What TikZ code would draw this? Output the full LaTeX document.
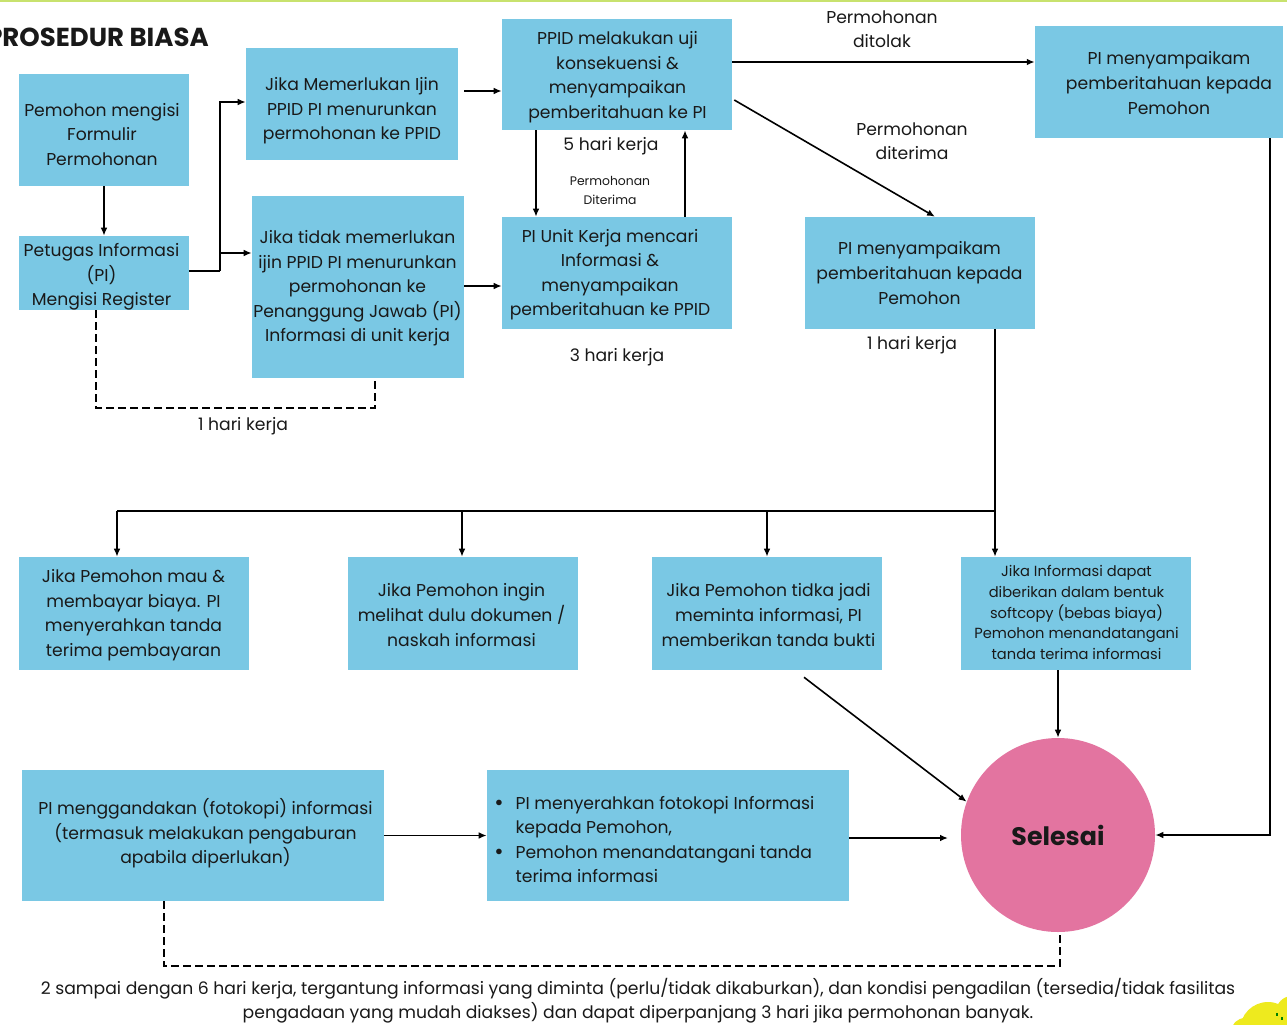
\documentclass[tikz,border=0pt]{standalone}
\usepackage{fontspec}
\setmainfont{Poppins}
\usetikzlibrary{arrows.meta,calc}
\definecolor{boxblue}{RGB}{122,200,228}
\definecolor{pinkc}{RGB}{227,116,160}
\definecolor{topgreen}{RGB}{200,226,110}
\definecolor{blobyellow}{RGB}{238,234,30}
\definecolor{txt}{RGB}{25,25,25}
\newcommand\bodyfont{\fontsize{12.9}{18.4}\selectfont}
\newcommand\softfont{\fontsize{11}{15.5}\selectfont}
\newcommand\tinyfont{\fontsize{9.3}{14.2}\selectfont}
\newcommand\bigbul{{\fontsize{17}{17}\selectfont\raisebox{-1.2pt}{\textbullet}}}
\begin{document}
\begin{tikzpicture}[x=0.75pt,y=-0.75pt,
  box/.style={fill=boxblue, inner sep=0pt},
  sz/.style 2 args={minimum width=#1*0.75pt, minimum height=#2*0.75pt},
  lbl/.style={inner sep=0pt, align=center, text=txt, font=\bodyfont},
  ln/.style={line width=1.4pt, draw=black},
  arr/.style={ln, -{Latex[length=6pt,width=5pt]}},
  dsh/.style={line width=1.2pt, draw=black, dash pattern=on 6pt off 3pt}
]
\useasboundingbox (0,0) rectangle (1287,1024);
\fill[white] (0,0) rectangle (1287,1024);
\fill[topgreen] (0,0) rectangle (1287,2.5);
% yellow blob
\fill[blobyellow] (1268,1030) circle (28);
\fill[blobyellow] (1245,1032) circle (14);
\fill[blobyellow] (1292,1012) circle (16);
\fill[green!50!black] (1276,1013) rectangle ++(1.5,3);
\fill[green!50!black] (1281,1017) rectangle ++(1.5,3);

% title
\node[inner sep=0pt, anchor=east, text=txt, font=\fontsize{19.5}{22}\selectfont\bfseries] (title) at (209,37) {PROSEDUR BIASA};

% boxes
\node[box,sz={170}{112}] (form) at (104,130) {};
\node[box,sz={170}{74}] (reg) at (104,273) {};
\node[box,sz={212}{112}] (ijin) at (352,104) {};
\node[box,sz={212}{182}] (tidak) at (358,287) {};
\node[box,sz={230}{111}] (ppid) at (617,74.5) {};
\node[box,sz={230}{112}] (unit) at (617,273) {};
\node[box,sz={248}{112}] (tolak) at (1159,82) {};
\node[box,sz={230}{112}] (terima) at (920,273) {};
\node[box,sz={230}{113}] (bayar) at (134,613.5) {};
\node[box,sz={230}{113}] (lihat) at (463,613.5) {};
\node[box,sz={230}{113}] (batal) at (767,613.5) {};
\node[box,sz={230}{113}] (soft) at (1076,613.5) {};
\node[box,sz={362}{131}] (ganda) at (203,835.5) {};
\node[box,sz={362}{131}] (serah) at (668,835.5) {};
\node[circle, fill=pinkc, minimum size=194*0.75pt, inner sep=0pt, text=txt, font=\fontsize{19}{22}\selectfont\bfseries] (end) at (1058,835) {Selesai};

% box texts
\node[lbl] (form-t) at (102,134.5) {Pemohon mengisi\\Formulir\\Permohonan};
\node[lbl] (reg-t) at (101.5,277) {Petugas Informasi\\(PI)\\Mengisi Register};
\node[lbl] (ijin-t) at (352,111) {Jika Memerlukan Ijin\\PPID PI menurunkan\\permohonan ke PPID};
\node[lbl] (tidak-t) at (357.5,288.5) {Jika tidak memerlukan\\ijin PPID PI menurunkan\\permohonan ke\\Penanggung Jawab (PI)\\Informasi di unit kerja};
\node[lbl] (ppid-t) at (617.5,77) {PPID melakukan uji\\konsekuensi \&\\menyampaikan\\pemberitahuan ke PI};
\node[lbl] (unit-t) at (610,274.5) {PI Unit Kerja mencari\\Informasi \&\\menyampaikan\\pemberitahuan ke PPID};
\node[lbl] (tolak-t) at (1169,83) {PI menyampaikam\\pemberitahuan kepada\\Pemohon};
\node[lbl] (terima-t) at (919.5,273) {PI menyampaikam\\pemberitahuan kepada\\Pemohon};
\node[lbl] (bayar-t) at (133.5,615) {Jika Pemohon mau \&\\membayar biaya. PI\\menyerahkan tanda\\terima pembayaran};
\node[lbl] (lihat-t) at (461.5,615) {Jika Pemohon ingin\\melihat dulu dokumen /\\naskah informasi};
\node[lbl] (batal-t) at (768.5,615) {Jika Pemohon tidka jadi\\meminta informasi, PI\\memberikan tanda bukti};
\node[lbl,font=\softfont] (soft-t) at (1076.5,612.5) {Jika Informasi dapat\\diberikan dalam bentuk\\softcopy (bebas biaya)\\Pemohon menandatangani\\tanda terima informasi};
\node[lbl] (ganda-t) at (205.5,833.5) {PI menggandakan (fotokopi) informasi\\(termasuk melakukan pengaburan\\apabila diperlukan)};
\node[lbl, anchor=west] (serah-t) at (494,841) {\begin{tabular}{@{}l@{\hspace{9pt}}l@{}}\bigbul & PI menyerahkan fotokopi Informasi\\ & kepada Pemohon,\\ \bigbul & Pemohon menandatangani tanda\\ & terima informasi\end{tabular}};

% labels
\node[lbl] (l5) at (611,146) {5 hari kerja};
\node[lbl,font=\tinyfont] (ldit) at (610,190) {Permohonan\\Diterima};
\node[lbl] (l3) at (617,357) {3 hari kerja};
\node[lbl] (ltolak) at (882,29) {Permohonan\\ditolak};
\node[lbl] (lterima) at (912,141) {Permohonan\\diterima};
\node[lbl] (l1a) at (912,345) {1 hari kerja};
\node[lbl] (l1b) at (243,426) {1 hari kerja};
\node[lbl] (note) at (638,1000.5) {2 sampai dengan 6 hari kerja, tergantung informasi yang diminta (perlu/tidak dikaburkan), dan kondisi pengadilan (tersedia/tidak fasilitas\\pengadaan yang mudah diakses) dan dapat diperpanjang 3 hari jika permohonan banyak.};

% connectors
\draw[arr] (form) -- (reg);
\coordinate (j1) at (220,271);
\coordinate (j2) at (220,253);
\coordinate (j3) at (220,102);
\draw[ln] (j1 -| reg.east) -- (j1);
\draw[arr] (j1) -- (j3) -- (j3 -| ijin.west);
\draw[arr] (j2) -- (j2 -| tidak.west);
\coordinate (a1) at (464,91);
\draw[arr] (a1) -- (a1 -| ppid.west);
\coordinate (a2) at (464,286);
\draw[arr] (a2) -- (a2 -| unit.west);
\coordinate (a3) at (536,0);
\draw[arr] (a3 |- ppid.south) -- (a3 |- unit.north);
\coordinate (a4) at (685,0);
\draw[arr] (a4 |- unit.north) -- (a4 |- ppid.south);
\coordinate (a5) at (0,62);
\draw[arr] (a5 -| ppid.east) -- (a5 -| tolak.west);
\draw[arr, line width=1.2pt] ($(ppid.east)+(2,25.5)$) -- ($(terima.north)+(15,0)$);
% bus
\coordinate (t0) at (995,0);
\coordinate (bus) at (995,511);
\coordinate (b1) at (117,511);
\coordinate (b2) at (462,511);
\coordinate (b3) at (767,511);
\draw[arr] (t0 |- terima.south) -- (t0 |- soft.north);
\draw[ln] (bus) -- (b1);
\draw[arr] (b1) -- (b1 |- bayar.north);
\draw[arr] (b2) -- (b2 |- lihat.north);
\draw[arr] (b3) -- (b3 |- batal.north);
% dashed first
\coordinate (d1) at (96,408);
\coordinate (d2) at (375,408);
\draw[dsh] (d1 |- reg.south) -- (d1) -- (d2) -- (d2 |- tidak.south);
% right side
\coordinate (r1) at (1270,835);
\draw[arr] (r1 |- tolak.south) -- (r1) -- (end.east);
\draw[arr, line width=1.2pt] ($(batal.south)+(37,7)$) -- (end.160);
\coordinate (s0) at (1058,0);
\draw[arr] (s0 |- soft.south) -- (end.north);
\draw[arr] (ganda.east) -- (serah.west);
\coordinate (e1) at (948,838);
\draw[arr] (e1 -| serah.east) -- (e1);
% dashed bottom
\coordinate (d3) at (164,966);
\coordinate (d4) at (1060,966);
\draw[dsh] (d3 |- ganda.south) -- (d3) -- (d4) -- (d4 |- end.south);
\end{tikzpicture}
\end{document}
